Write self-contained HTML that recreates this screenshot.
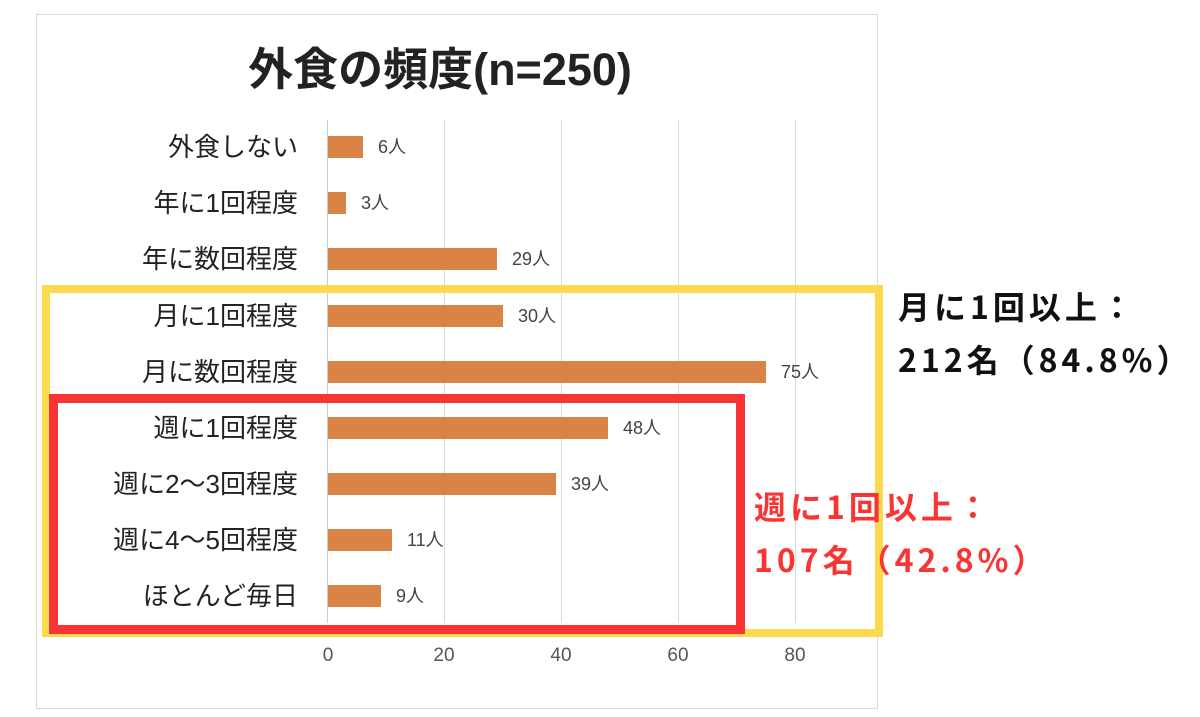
<!DOCTYPE html>
<html><head><meta charset="utf-8"><style>
body{margin:0;width:1200px;height:717px;background:#fff;position:relative;overflow:hidden;font-family:"Liberation Sans","Noto Sans CJK JP",sans-serif}
.a{position:absolute}
.lbl{position:absolute;right:902px;font-size:26px;color:#222;white-space:nowrap;line-height:30px}
.bar{position:absolute;left:328px;height:22px;background:#d98444}
.val{position:absolute;font-size:18px;color:#444;line-height:22px}
.grid{position:absolute;top:120px;height:503px;width:1px;background:#d9d9d9}
.tick{position:absolute;top:645px;font-size:19px;color:#555;width:60px;text-align:center}
.ann{position:absolute;font-family:"Noto Sans CJK JP",sans-serif;font-size:32px;font-weight:bold;line-height:53px;white-space:nowrap;letter-spacing:4px}
</style></head><body>
<div class="a" style="left:36px;top:14px;width:840px;height:693px;border:1px solid #d9d9d9"></div>
<div class="a" style="left:30px;top:38px;width:820px;text-align:center;font-size:45px;font-weight:bold;color:#222;line-height:64px;white-space:nowrap">外食の頻度(n=250)</div>
<div class="grid" style="left:327px;background:#ccc"></div>
<div class="grid" style="left:444px"></div>
<div class="grid" style="left:561px"></div>
<div class="grid" style="left:678px"></div>
<div class="grid" style="left:795px"></div>
<div class="tick" style="left:298px">0</div>
<div class="tick" style="left:414px">20</div>
<div class="tick" style="left:531px">40</div>
<div class="tick" style="left:648px">60</div>
<div class="tick" style="left:765px">80</div>

<div class="lbl" style="top:132px">外食しない</div>
<div class="bar" style="top:136px;width:35px"></div><div class="val" style="left:378px;top:136px">6人</div>
<div class="lbl" style="top:188px">年に1回程度</div>
<div class="bar" style="top:192px;width:18px"></div><div class="val" style="left:361px;top:192px">3人</div>
<div class="lbl" style="top:244px">年に数回程度</div>
<div class="bar" style="top:248px;width:169px"></div><div class="val" style="left:512px;top:248px">29人</div>
<div class="lbl" style="top:301px">月に1回程度</div>
<div class="bar" style="top:305px;width:175px"></div><div class="val" style="left:518px;top:305px">30人</div>
<div class="lbl" style="top:357px">月に数回程度</div>
<div class="bar" style="top:361px;width:438px"></div><div class="val" style="left:781px;top:361px">75人</div>
<div class="lbl" style="top:413px">週に1回程度</div>
<div class="bar" style="top:417px;width:280px"></div><div class="val" style="left:623px;top:417px">48人</div>
<div class="lbl" style="top:469px">週に2～3回程度</div>
<div class="bar" style="top:473px;width:228px"></div><div class="val" style="left:571px;top:473px">39人</div>
<div class="lbl" style="top:525px">週に4～5回程度</div>
<div class="bar" style="top:529px;width:64px"></div><div class="val" style="left:407px;top:529px">11人</div>
<div class="lbl" style="top:581px">ほとんど毎日</div>
<div class="bar" style="top:585px;width:53px"></div><div class="val" style="left:396px;top:585px">9人</div>

<div class="a" style="left:42px;top:285px;width:825px;height:336px;border:8px solid #fdd94f"></div>
<div class="a" style="left:49px;top:394px;width:678px;height:222px;border:9px solid #f93434"></div>

<div class="ann" style="left:898px;top:280px;color:#111">月に1回以上：<br>212名（84.8%）</div>
<div class="ann" style="left:754px;top:480px;color:#f93434">週に1回以上：<br>107名（42.8%）</div>
</body></html>
